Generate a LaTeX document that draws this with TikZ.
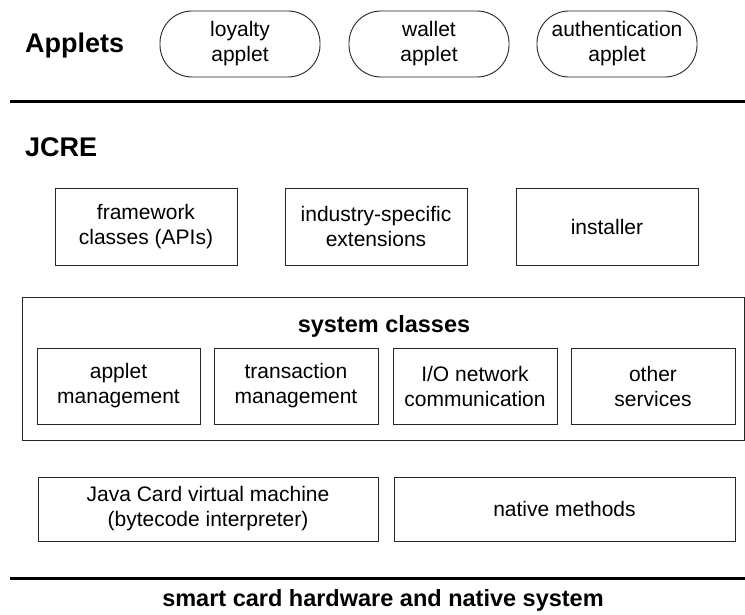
\documentclass[tikz,border=0pt]{standalone}
\usepackage{fontspec}
\setmainfont{Liberation Sans}
\begin{document}
\begin{tikzpicture}[x=1pt,y=-1pt,
  box/.style={draw=black!85, line width=0.9pt, inner sep=0pt, align=center,
    font=\fontsize{21}{25}\selectfont},
  pill/.style={box, rounded corners=32pt, minimum width=160pt, minimum height=66pt},
  head/.style={font=\fontsize{27}{31}\selectfont\bfseries, inner sep=0pt},
  sub/.style={font=\fontsize{23.5}{27}\selectfont\bfseries, inner sep=0pt},
  thick line/.style={line width=3pt}]
\useasboundingbox (0,0) rectangle (745,615);
% Applets
\node[head, anchor=base west] (applets) at (25,53) {Applets};
\node[pill] (loyalty) at (240,44) {loyalty\\applet};
\node[pill] (wallet) at (429,44) {wallet\\applet};
\node[pill] (auth) at (617,44) {authentication\\applet};
\coordinate (l1a) at (10,102);
\coordinate (l1b) at (745,102);
\draw[thick line] (l1a) -- (l1b);
% JCRE
\node[head, anchor=base west] (jcre) at (25,157) {JCRE};
\node[box, minimum width=182pt, minimum height=77pt] (fw) at (146,226.5) {framework\\classes (APIs)};
\node[box, minimum width=182pt, minimum height=77pt] (ind) at (376,226.5) {industry-specific\\extensions};
\node[box, minimum width=182pt, minimum height=77pt] (inst) at (607,226.5) {installer};
% system classes
\node[box, minimum width=722pt, minimum height=143pt] (sys) at (383,368.5) {};
\node[sub] (systitle) at (384,326) {system classes};
\node[box, minimum width=163pt, minimum height=76pt] (am) at (118.5,386) {applet\\management};
\node[box, minimum width=164pt, minimum height=76pt] (tm) at (296,386) {transaction\\management};
\node[box, minimum width=164pt, minimum height=76pt] (io) at (475,386) {I/O network\\communication};
\node[box, minimum width=164pt, minimum height=76pt] (os) at (653,386) {other\\services};
% VM
\node[box, minimum width=340pt, minimum height=64pt] (vm) at (208,509) {Java Card virtual machine\\(bytecode interpreter)};
\node[box, minimum width=341pt, minimum height=64pt] (nm) at (564.5,509) {native methods};
\coordinate (l2a) at (10,578);
\coordinate (l2b) at (745,578);
\draw[thick line] (l2a) -- (l2b);
\node[sub] (hw) at (383,600) {smart card hardware and native system};
\end{tikzpicture}
\end{document}
